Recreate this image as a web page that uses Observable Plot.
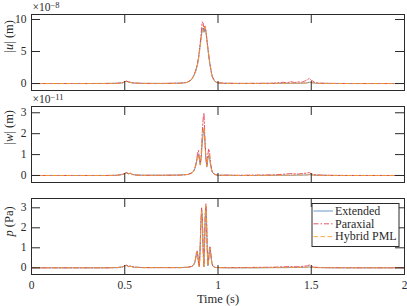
<!DOCTYPE html>
<html><head><meta charset="utf-8">
<script src="https://cdn.jsdelivr.net/npm/d3@7"></script>
<script src="https://cdn.jsdelivr.net/npm/@observablehq/plot@0.6"></script>
<style>
body{margin:0;background:#fff;}
#chart{position:relative;width:407px;height:306px;overflow:hidden;}
#chart svg{position:absolute;left:0;overflow:visible;}
</style></head><body><div id="chart"></div>
<script>
// ---------- data ----------
const seriesNames = ["Extended", "Paraxial", "Hybrid PML"];
const xTicks = [0, 0.5, 1, 1.5, 2];
const xTickLabels = ["0", "0.5", "1", "1.5", "2"];
const uTicks = [0, 5, 10];
const wTicks = [0, 1, 2, 3];
const pTicks = [0, 1, 2, 3];
const xLabel = "Time (s)";
const uLabel = "|u| (m)";
const wLabel = "|w| (m)";
const pLabel = "p (Pa)";
const uExpo = "×10−8";
const wExpo = "×10−11";

// |u| (x1e-8 m)
const tU = [0,0.1,0.2,0.3,0.4, 0.46,0.49,0.5,0.51,0.52,0.53,0.54,0.56,0.6,
  0.7,0.8,0.83,0.85,0.86,0.87,0.88,0.89,0.895,
  0.9,0.905,0.91,0.915,0.92,0.925,0.93,0.935,0.94,0.945,
  0.95,0.955,0.96,0.965,0.97,0.98,0.99,1.0,1.03,
  1.1,1.2,1.3,1.35,1.37,1.39,1.41,1.43,1.45,1.47,
  1.48,1.49,1.5,1.51,1.52,1.54,1.6,1.7,1.8,1.9,2.0];
const uExt = [0,0,0,0,0.01, 0.03,0.12,0.28,0.35,0.22,0.18,0.1,0.05,0.02,
  0.01,0.05,0.15,0.4,0.7,1.2,1.9,3.0,3.8,
  4.9,6.1,7.3,8.4,8.7,8.0,8.6,8.1,6.9,5.6,
  4.4,3.3,2.4,1.6,1.0,0.45,0.2,0.1,0.03,
  0.01,0.01,0.02,0.03,0.02,0.04,0.03,0.05,0.04,0.08,
  0.12,0.2,0.15,0.1,0.06,0.03,0.01,0,0,0,0];
const uPar = [0,0,0,0,0.01, 0.04,0.14,0.3,0.38,0.25,0.2,0.12,0.06,0.02,
  0.01,0.05,0.16,0.42,0.72,1.25,2.0,3.1,4.0,
  5.1,6.4,7.9,9.6,9.5,8.3,9.0,8.4,7.0,5.7,
  4.5,3.4,2.5,1.7,1.05,0.5,0.22,0.12,0.05,
  0.02,0.03,0.05,0.2,0.1,0.3,0.15,0.25,0.2,0.45,
  0.6,0.8,0.5,0.35,0.15,0.05,0.02,0,0,0,0];
const uHyb = [0,0,0,0,0.01, 0.03,0.12,0.27,0.34,0.23,0.17,0.1,0.05,0.02,
  0.01,0.05,0.15,0.38,0.68,1.15,1.85,2.9,3.7,
  4.8,5.9,7.0,8.0,8.4,8.2,8.9,8.3,7.0,5.7,
  4.5,3.4,2.5,1.65,1.05,0.45,0.2,0.1,0.03,
  0.01,0.01,0.02,0.03,0.02,0.04,0.03,0.05,0.04,0.07,
  0.1,0.18,0.14,0.1,0.06,0.03,0.01,0,0,0,0];

// |w| (x1e-11 m)
const tW = [0,0.1,0.2,0.3,0.4, 0.46,0.49,0.5,0.51,0.52,0.53,0.54,0.56,0.6,
  0.7,0.8,0.84,0.86,0.87,0.875,0.88,0.885,0.89,0.895,
  0.9,0.905,0.91,0.915,0.92,0.925,0.93,0.935,0.94,0.945,
  0.95,0.955,0.96,0.965,0.97,0.98,0.99,1.0,1.05,
  1.1,1.2,1.3,1.35,1.39,1.43,1.46,1.48,1.49,1.5,
  1.51,1.52,1.55,1.6,1.7,1.8,1.9,2.0];
const wExt = [0,0,0,0,0, 0.01,0.05,0.1,0.13,0.08,0.1,0.05,0.02,0.01,
  0.01,0.02,0.05,0.12,0.22,0.3,0.45,0.65,0.9,1.0,
  0.8,0.5,0.85,1.5,2.0,2.2,1.6,0.8,0.4,0.75,
  0.95,0.85,0.5,0.3,0.15,0.06,0.03,0.01,0.01,
  0,0,0.01,0.01,0.01,0.02,0.02,0.03,0.04,0.03,
  0.02,0.01,0.01,0,0,0,0,0];
const wPar = [0,0,0,0,0, 0.01,0.06,0.11,0.14,0.09,0.11,0.06,0.02,0.01,
  0.01,0.02,0.05,0.13,0.24,0.33,0.5,0.72,1.05,1.2,
  0.85,0.55,1.0,1.95,2.7,2.98,1.75,0.9,0.45,0.95,
  1.28,1.1,0.6,0.35,0.17,0.07,0.03,0.01,0.02,
  0.01,0.02,0.03,0.06,0.09,0.07,0.1,0.12,0.14,0.08,
  0.06,0.04,0.02,0.01,0,0,0,0];
const wHyb = [0,0,0,0,0, 0.01,0.05,0.1,0.12,0.08,0.1,0.05,0.02,0.01,
  0.01,0.02,0.05,0.12,0.21,0.3,0.44,0.63,0.88,0.98,
  0.78,0.5,0.88,1.6,2.1,2.3,1.65,0.82,0.42,0.78,
  0.98,0.87,0.52,0.3,0.15,0.06,0.03,0.01,0.01,
  0,0,0.01,0.01,0.01,0.02,0.02,0.03,0.04,0.03,
  0.02,0.01,0.01,0,0,0,0,0];

// p (Pa)
const tP = [0,0.1,0.2,0.3,0.4, 0.46,0.49,0.5,0.51,0.52,0.53,0.55,0.6,
  0.7,0.8,0.84,0.86,0.87,0.875,0.88,0.884,0.888,0.892,0.896,
  0.9,0.904,0.908,0.912,0.916,0.92,0.924,0.928,0.932,0.935,
  0.938,0.942,0.946,0.95,0.954,0.957,0.96,0.964,0.968,0.972,
  0.978,0.985,1.0,1.05,1.1,1.2,1.3,1.38,1.43,1.46,
  1.48,1.49,1.5,1.51,1.52,1.55,1.6,1.7,1.8,1.9,2.0];
const pExt = [0,0,0,0,0, 0.01,0.05,0.1,0.12,0.06,0.08,0.03,0.01,
  0.01,0.01,0.03,0.07,0.15,0.25,0.45,0.7,0.82,0.6,0.2,
  0.05,0.9,2.1,2.9,2.5,1.0,0.05,1.2,2.7,3.1,
  2.6,1.0,0.1,0.4,0.9,1.0,0.8,0.45,0.2,0.1,
  0.04,0.02,0.01,0,0,0,0.01,0.01,0.02,0.02,
  0.03,0.04,0.03,0.02,0.01,0.01,0,0,0,0,0];
const pPar = [0,0,0,0,0, 0.01,0.05,0.1,0.13,0.07,0.08,0.03,0.01,
  0.01,0.01,0.03,0.07,0.16,0.26,0.47,0.72,0.85,0.62,0.22,
  0.06,0.95,2.2,3.0,2.55,1.05,0.06,1.25,2.8,3.2,
  2.65,1.05,0.12,0.45,0.95,1.05,0.85,0.48,0.22,0.1,
  0.05,0.02,0.01,0.01,0.01,0.02,0.03,0.06,0.05,0.08,
  0.1,0.14,0.09,0.06,0.03,0.01,0.01,0,0,0,0];
const pHyb = [0,0,0,0,0, 0.01,0.05,0.1,0.12,0.06,0.08,0.03,0.01,
  0.01,0.01,0.03,0.07,0.15,0.24,0.44,0.68,0.8,0.58,0.2,
  0.05,0.88,2.05,2.85,2.45,0.98,0.05,1.18,2.68,3.1,
  2.58,0.98,0.1,0.4,0.88,0.98,0.78,0.44,0.2,0.1,
  0.04,0.02,0.01,0,0,0,0.01,0.01,0.02,0.02,
  0.03,0.04,0.03,0.02,0.01,0.01,0,0,0,0,0];

// ---------- style ----------
const seriesColors = ["#4f86bd", "#e8394a", "#fb9a2a"];
const seriesDash = ["none", "5,2,1.5,2", "4.5,2.5"];
const axisColor = "#2a2a2a";
const fontFamily = "'Liberation Serif', 'DejaVu Serif', serif";
const W = 407, ML = 31, MR = 3, TL = 9;

function richText(svg, plain, parts) {
  d3.select(svg).selectAll("text").filter(function () { return this.textContent === plain; })
    .each(function () {
      const t = d3.select(this);
      t.text(null);
      for (const p of parts) {
        const s = t.append("tspan").text(p.t);
        if (p.i) s.attr("font-style", "italic");
        if (p.sup) s.attr("dy", "-0.42em").attr("font-size", "0.74em");
      }
    });
}

function makePanel(cfg) {
  const {top, height, mt, mb, yDomain, yTicks, t, vals, ylabel, expo, showX} = cfg;
  const fh = height - mt - mb, fw = W - ML - MR;
  const marks = [];
  vals.forEach((v, k) => {
    const rows = t.map((x, i) => ({t: x, v: v[i], s: seriesNames[k]}));
    marks.push(Plot.line(rows, {x: "t", y: "v", stroke: seriesColors[k], strokeWidth: 1,
      strokeDasharray: seriesDash[k] === "none" ? undefined : seriesDash[k], strokeOpacity: 0.85}));
  });
  marks.push(
    Plot.ruleX(xTicks, {x: d => d, insetTop: fh - TL, stroke: axisColor}),
    Plot.ruleX(xTicks, {x: d => d, insetBottom: fh - TL, stroke: axisColor}),
    Plot.ruleY(yTicks, {y: d => d, insetRight: fw - TL, stroke: axisColor}),
    Plot.ruleY(yTicks, {y: d => d, insetLeft: fw - TL, stroke: axisColor}),
    Plot.frame({stroke: axisColor, strokeWidth: 1}),
    Plot.axisY(yTicks, {tickSize: 0, tickPadding: 5, label: null, fontSize: 11.5}),
    Plot.text([ylabel], {text: d => d, frameAnchor: "left", dx: -23, rotate: -90, fontSize: 12.5, fill: axisColor})
  );
  if (expo) marks.push(Plot.text([expo], {text: d => d, frameAnchor: "top-left", dx: 1, dy: -7,
    textAnchor: "start", lineAnchor: "middle", fontSize: 11.5, fill: axisColor}));
  if (showX) {
    marks.push(
      Plot.axisX(xTicks, {tickSize: 0, tickPadding: 6, label: null, fontSize: 11.5,
        tickFormat: d => xTickLabels[xTicks.indexOf(d)]}),
      Plot.text([xLabel], {text: d => d, frameAnchor: "bottom", dy: 24, lineAnchor: "middle", fontSize: 12.5, fill: axisColor})
    );
  }
  const svg = Plot.plot({
    width: W, height, marginLeft: ML, marginRight: MR, marginTop: mt, marginBottom: mb,
    x: {domain: [0, 2], axis: showX ? undefined : null},
    y: {domain: yDomain},
    style: {fontFamily, fontSize: "11.5px", color: axisColor, background: "transparent", overflow: "visible"},
    marks
  });
  svg.style.top = top + "px";
  return svg;
}

const chart = document.getElementById("chart");
const s1 = makePanel({top: 0, height: 96, mt: 14, mb: 6, yDomain: [-1.09, 10.78], yTicks: uTicks,
  t: tU, vals: [uExt, uPar, uHyb], ylabel: uLabel, expo: uExpo, showX: false});
const s2 = makePanel({top: 92, height: 96, mt: 14, mb: 6, yDomain: [-0.335, 3.3], yTicks: wTicks,
  t: tW, vals: [wExt, wPar, wHyb], ylabel: wLabel, expo: wExpo, showX: false});
const s3 = makePanel({top: 184, height: 122, mt: 14, mb: 32, yDomain: [-0.335, 3.465], yTicks: pTicks,
  t: tP, vals: [pExt, pPar, pHyb], ylabel: pLabel, expo: null, showX: true});
chart.append(s1, s2, s3);

richText(s1, uLabel, [{t: "|"}, {t: "u", i: true}, {t: "| (m)"}]);
richText(s2, wLabel, [{t: "|"}, {t: "w", i: true}, {t: "| (m)"}]);
richText(s3, pLabel, [{t: "p", i: true}, {t: " (Pa)"}]);
richText(s1, uExpo, [{t: "×10"}, {t: "−8", sup: true}]);
richText(s2, wExpo, [{t: "×10"}, {t: "−11", sup: true}]);

// legend (inside bottom panel, top-right)
(function legend() {
  const g = d3.select(s3).append("g").attr("font-family", fontFamily).attr("font-size", 12)
    .attr("text-anchor", "start");
  const bx = 312, by = 19.5, bw = 87, bh = 43;
  g.append("rect").attr("x", bx).attr("y", by).attr("width", bw).attr("height", bh)
    .attr("fill", "#fff").attr("stroke", axisColor).attr("stroke-width", 1);
  seriesNames.forEach((name, k) => {
    const y = by + 7.5 + k * 12.8;
    g.append("path").attr("d", `M${bx + 1.5},${y}H${bx + 21}`)
      .attr("fill", "none")
      .attr("stroke", seriesColors[k]).attr("stroke-width", 1).attr("stroke-opacity", 0.85)
      .attr("stroke-dasharray", seriesDash[k]);
    g.append("text").attr("x", bx + 23).attr("y", y).attr("dy", "0.32em")
      .attr("text-anchor", "start").attr("fill", axisColor).text(name);
  });
})();
</script></body></html>
